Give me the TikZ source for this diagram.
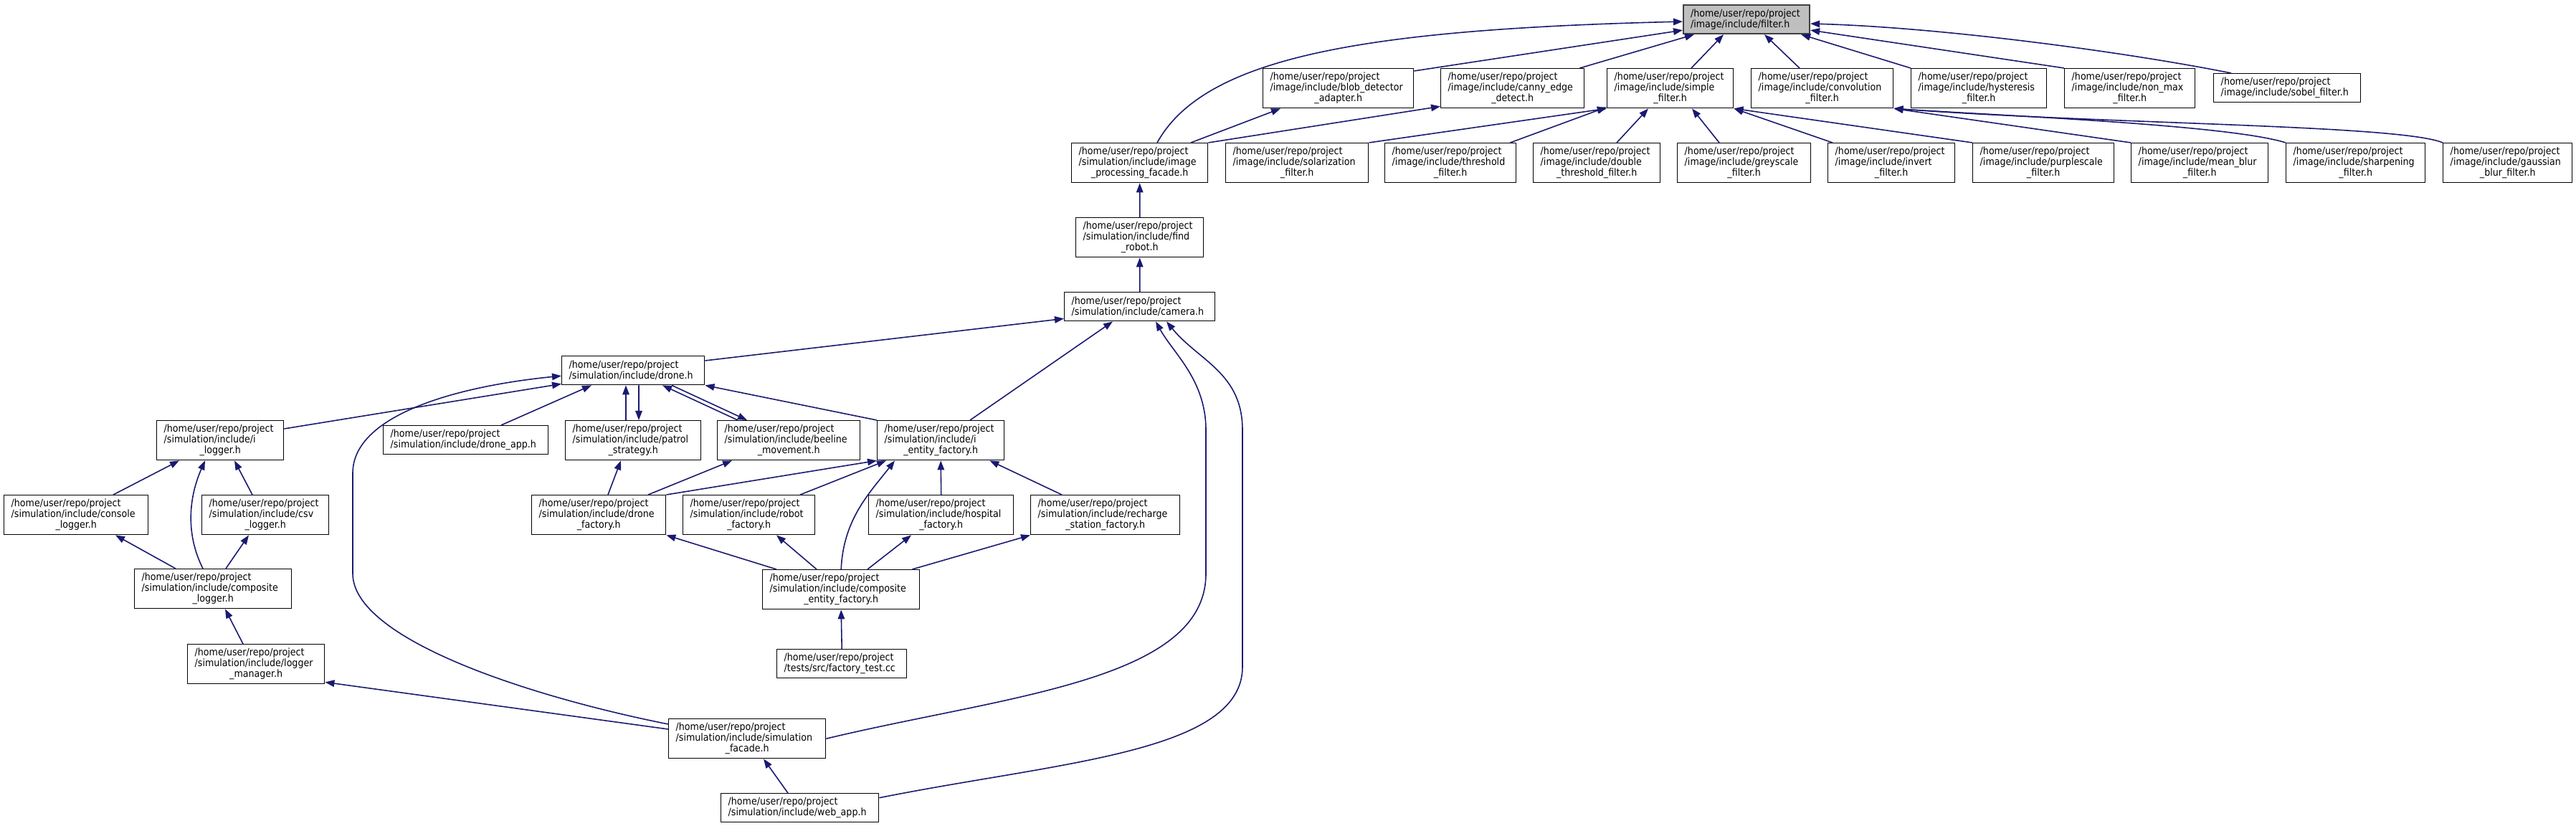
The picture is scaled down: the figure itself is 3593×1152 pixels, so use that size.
\documentclass[tikz,border=0pt]{standalone}
\usepackage{fontspec}
\setmainfont{DejaVu Sans Condensed}
\usepackage{xcolor}
\usepackage{tikz}
\usetikzlibrary{arrows.meta}
\definecolor{navyline}{RGB}{25,25,112}
\definecolor{focusgray}{RGB}{191,191,191}
\hyphenpenalty=10000
\exhyphenpenalty=10000
\newcommand{\lastpart}[1]{\hbox to\hsize{\hfil#1\hfil}}

\begin{document}
\begin{tikzpicture}[x=0.1mm, y=-0.1mm, >={Triangle[length=1.3mm, width=0.95mm]},
  hdr/.style={draw=black, fill=white, line width=0.4pt, anchor=north west, inner xsep=1mm,
    inner ysep=0pt, minimum height=5.5mm, align=left, text width=#1,
    font=\fontsize{4}{4.25}\selectfont},
  hdrtwo/.style={hdr=#1, minimum height=4mm},
  dep/.style={->, navyline, line width=0.45pt}]
  \useasboundingbox[fill=white] (0,0) rectangle (3593,1152);
  \node[hdrtwo=15.6mm, fill=focusgray, draw=black!75, line width=0.6pt] (filter) at (2347,6) {/home/user/repo/project\\/image/include/filter.h};
  \node[hdr=19mm]   (blob)   at (1761,95) {/home/user/repo/project\\/image/include/blob\_detector\\\lastpart{\_adapter.h}};
  \node[hdr=18mm]   (canny)  at (2009,95) {/home/user/repo/project\\/image/include/canny\_edge\\\lastpart{\_detect.h}};
  \node[hdr=15.6mm] (simple) at (2241,95) {/home/user/repo/project\\/image/include/simple\\\lastpart{\_filter.h}};
  \node[hdr=17.8mm] (conv)   at (2442,95) {/home/user/repo/project\\/image/include/convolution\\\lastpart{\_filter.h}};
  \node[hdr=16.9mm] (hyst)   at (2665,95) {/home/user/repo/project\\/image/include/hysteresis\\\lastpart{\_filter.h}};
  \node[hdr=16.2mm] (nonmax) at (2879,95) {/home/user/repo/project\\/image/include/non\_max\\\lastpart{\_filter.h}};
  \node[hdrtwo=18.5mm] (sobel) at (3087,102) {/home/user/repo/project\\/image/include/sobel\_filter.h};
  \node[hdr=17mm]   (facade)   at (1494,199) {/home/user/repo/project\\/simulation/include/image\\\lastpart{\_processing\_facade.h}};
  \node[hdr=17.9mm] (solar)    at (1709,199) {/home/user/repo/project\\/image/include/solarization\\\lastpart{\_filter.h}};
  \node[hdr=16.3mm] (thresh)   at (1931,199) {/home/user/repo/project\\/image/include/threshold\\\lastpart{\_filter.h}};
  \node[hdr=15.7mm] (dthresh)  at (2138,199) {/home/user/repo/project\\/image/include/double\\\lastpart{\_threshold\_filter.h}};
  \node[hdr=16.6mm] (grey)     at (2339,199) {/home/user/repo/project\\/image/include/greyscale\\\lastpart{\_filter.h}};
  \node[hdr=15.7mm] (invert)   at (2549,199) {/home/user/repo/project\\/image/include/invert\\\lastpart{\_filter.h}};
  \node[hdr=17.7mm] (purple)   at (2751,199) {/home/user/repo/project\\/image/include/purplescale\\\lastpart{\_filter.h}};
  \node[hdr=17.1mm] (meanblur) at (2972,199) {/home/user/repo/project\\/image/include/mean\_blur\\\lastpart{\_filter.h}};
  \node[hdr=17.4mm] (sharp)    at (3188,199) {/home/user/repo/project\\/image/include/sharpening\\\lastpart{\_filter.h}};
  \node[hdr=16mm]   (gauss)    at (3407,199) {/home/user/repo/project\\/image/include/gaussian\\\lastpart{\_blur\_filter.h}};
  \node[hdr=15.8mm]  (findrobot) at (1500,303) {/home/user/repo/project\\/simulation/include/find\\\lastpart{\_robot.h}};
  \node[hdrtwo=19mm] (camera)    at (1484,407) {/home/user/repo/project\\/simulation/include/camera.h};
  \node[hdrtwo=17.9mm] (drone)   at (783,496)  {/home/user/repo/project\\/simulation/include/drone.h};
  \node[hdr=15.7mm]  (ilogger)   at (218,586)  {/home/user/repo/project\\/simulation/include/i\\\lastpart{\_logger.h}};
  \node[hdrtwo=21mm] (droneapp)  at (534,593)  {/home/user/repo/project\\/simulation/include/drone\_app.h};
  \node[hdr=16.9mm]  (patrol)    at (788,586)  {/home/user/repo/project\\/simulation/include/patrol\\\lastpart{\_strategy.h}};
  \node[hdr=17.9mm]  (beeline)   at (1000,586) {/home/user/repo/project\\/simulation/include/beeline\\\lastpart{\_movement.h}};
  \node[hdr=15.7mm]  (ientity)   at (1223,586) {/home/user/repo/project\\/simulation/include/i\\\lastpart{\_entity\_factory.h}};
  \node[hdr=18.1mm]  (console)   at (5,690)    {/home/user/repo/project\\/simulation/include/console\\\lastpart{\_logger.h}};
  \node[hdr=15.7mm]  (csv)       at (281,690)  {/home/user/repo/project\\/simulation/include/csv\\\lastpart{\_logger.h}};
  \node[hdr=16.7mm]  (dronefac)  at (741,690)  {/home/user/repo/project\\/simulation/include/drone\\\lastpart{\_factory.h}};
  \node[hdr=16.4mm]  (robotfac)  at (952,690)  {/home/user/repo/project\\/simulation/include/robot\\\lastpart{\_factory.h}};
  \node[hdr=18.2mm]  (hospfac)   at (1211,690) {/home/user/repo/project\\/simulation/include/hospital\\\lastpart{\_factory.h}};
  \node[hdr=18.8mm]  (recharge)  at (1437,690) {/home/user/repo/project\\/simulation/include/recharge\\\lastpart{\_station\_factory.h}};
  \node[hdr=19.9mm]  (complogger) at (187,793)  {/home/user/repo/project\\/simulation/include/composite\\\lastpart{\_logger.h}};
  \node[hdr=19.9mm]  (compentity) at (1063,794) {/home/user/repo/project\\/simulation/include/composite\\\lastpart{\_entity\_factory.h}};
  \node[hdr=17.1mm]  (loggermgr)  at (261,898)  {/home/user/repo/project\\/simulation/include/logger\\\lastpart{\_manager.h}};
  \node[hdrtwo=16.1mm] (factorytest) at (1083,905) {/home/user/repo/project\\/tests/src/factory\_test.cc};
  \node[hdr=19.9mm]  (simfacade)  at (932,1002) {/home/user/repo/project\\/simulation/include/simulation\\\lastpart{\_facade.h}};
  \node[hdrtwo=20mm] (webapp)     at (1005,1106) {/home/user/repo/project\\/simulation/include/web\_app.h};
  \coordinate (simbend) at (1682,800);
  \coordinate (simrise) at (1682,600);
  \coordinate (webbend) at (1733,930);
  \coordinate (webrise) at (1733,600);
  \coordinate (dronebend) at (492,800);
  \coordinate (dronerise) at (492,660);
  \draw[dep] ([xshift=12mm]facade.north west) .. controls +(66,-119) and +(-447,11) .. ([yshift=-0.3mm]filter.west);
  \draw[dep] ([yshift=-0.4mm]blob.north east) -- ([yshift=0.6mm]filter.south west);
  \draw[dep] ([xshift=-0.7mm]canny.north east) -- ([xshift=1.6mm]filter.south west);
  \draw[dep] ([xshift=11.8mm]simple.north west) -- ([xshift=5.7mm]filter.south west);
  \draw[dep] ([xshift=6.8mm]conv.north west) -- ([xshift=11.4mm]filter.south west);
  \draw[dep] (hyst.north west) -- ([xshift=-1.3mm]filter.south east);
  \draw[dep] (nonmax.north west) -- ([yshift=0.6mm]filter.south east);
  \draw[dep] ([xshift=2.5mm]sobel.north west) .. controls +(-150,-30) and +(180,5) .. ([yshift=-0.6mm]filter.east);
  \draw[dep] ([xshift=16.7mm]facade.north west) -- ([xshift=2.5mm]blob.south west);
  \draw[dep] (facade.north east) -- ([yshift=0.3mm]canny.south west);
  \draw[dep] (solar.north east) -- (simple.south west);
  \draw[dep] ([xshift=-0.9mm]thresh.north east) -- ([yshift=0.2mm]simple.south west);
  \draw[dep] ([xshift=11.7mm]dthresh.north west) -- ([xshift=5.8mm]simple.south west);
  \draw[dep] ([xshift=5.9mm]grey.north west) -- ([xshift=11.9mm]simple.south west);
  \draw[dep] ([xshift=0.7mm]invert.north west) -- (simple.south east);
  \draw[dep] (purple.north west) -- (simple.south east);
  \draw[dep] (meanblur.north west) -- (conv.south east);
  \draw[dep] (sharp.north west) .. controls +(-80,-25) and +(150,10) .. (conv.south east);
  \draw[dep] (gauss.north west) .. controls +(-60,-25) and +(300,22) .. (conv.south east);
  \draw[dep] (findrobot.north) -- (facade.south);
  \draw[dep] (camera.north) -- (findrobot.south);
  \draw[dep] ([yshift=-0.7mm]drone.north east) -- ([yshift=0.4mm]camera.south west);
  \draw[dep] ([xshift=13mm]ientity.north west) -- ([xshift=6.8mm]camera.south west);
  \draw[dep] (simfacade.east) .. controls +(250,-60) and +(0,150) .. (simbend) -- (simrise)
        .. controls +(0,-70) and +(25,45) .. ([xshift=12.8mm]camera.south west);
  \draw[dep] ([yshift=1.4mm]webapp.east) .. controls +(250,-50) and +(0,120) .. (webbend) -- (webrise)
        .. controls +(0,-80) and +(45,55) .. ([xshift=14.3mm]camera.south west);
  \draw[dep] ([yshift=-1.2mm]ilogger.north east) -- ([yshift=0.2mm]drone.south west);
  \draw[dep] ([yshift=-0.8mm]simfacade.north west) .. controls +(-200,-40) and +(0,90) .. (dronebend) -- (dronerise)
        .. controls +(0,-80) and +(-150,15) .. ([yshift=-0.75mm]drone.west);
  \draw[dep] ([xshift=16.5mm]droneapp.north west) -- ([xshift=4.2mm]drone.south west);
  \draw[dep] ([xshift=8.5mm]patrol.north west) -- ([xshift=9mm]drone.south west);
  \draw[dep] ([xshift=10.8mm]drone.south west) -- ([xshift=10.3mm]patrol.north west);
  \draw[dep] ([xshift=2.9mm]beeline.north west) -- ([xshift=14.1mm]drone.south west);
  \draw[dep] ([xshift=15.4mm]drone.south west) -- ([xshift=4.2mm]beeline.north west);
  \draw[dep] (ientity.north west) -- (drone.south east);
  \draw[dep] ([xshift=15.3mm]console.north west) -- ([xshift=3.2mm]ilogger.south west);
  \draw[dep] ([xshift=7.1mm]csv.north west) -- ([xshift=10.9mm]ilogger.south west);
  \draw[dep] ([xshift=9.6mm]complogger.north west) .. controls +(-25,-50) and +(-22,50) .. ([xshift=6.8mm]ilogger.south west);
  \draw[dep] ([xshift=5.8mm]complogger.north west) -- ([xshift=15.6mm]console.south west);
  \draw[dep] ([xshift=12.8mm]complogger.north west) -- ([xshift=6.6mm]csv.south west);
  \draw[dep] ([xshift=7.8mm]loggermgr.north west) -- ([xshift=12.7mm]complogger.south west);
  \draw[dep] ([yshift=-1.5mm]simfacade.north west) -- ([yshift=0.3mm]loggermgr.south east);
  \draw[dep] ([xshift=10.7mm]dronefac.north west) -- ([xshift=7.8mm]patrol.south west);
  \draw[dep] ([xshift=16.3mm]dronefac.north west) -- ([xshift=2.1mm]beeline.south west);
  \draw[dep] (dronefac.north east) -- (ientity.south west);
  \draw[dep] ([xshift=16.4mm]robotfac.north west) -- ([xshift=1.3mm]ientity.south west);
  \draw[dep] (compentity.north) .. controls +(3,-70) and +(-35,45) .. ([xshift=2.5mm]ientity.south west);
  \draw[dep] (hospfac.north) -- (ientity.south);
  \draw[dep] ([xshift=4.4mm]recharge.north west) -- ([xshift=-2.1mm]ientity.south east);
  \draw[dep] ([xshift=2mm]compentity.north west) -- (dronefac.south east);
  \draw[dep] ([xshift=7.6mm]compentity.north west) -- ([xshift=13.1mm]robotfac.south west);
  \draw[dep] ([xshift=14.7mm]compentity.north west) -- ([xshift=6mm]hospfac.south west);
  \draw[dep] ([xshift=-1.1mm]compentity.north east) -- (recharge.south west);
  \draw[dep] (factorytest.north) -- (compentity.south);
  \draw[dep] ([xshift=9.4mm]webapp.north west) -- ([xshift=13.3mm]simfacade.south west);
\end{tikzpicture}
\end{document}
